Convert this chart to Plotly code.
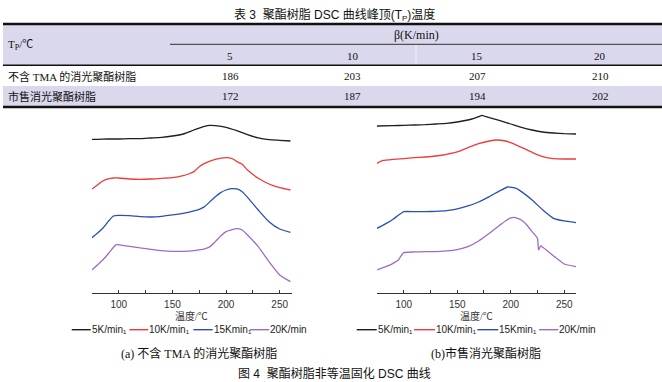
import plotly.graph_objects as go

W, H = 662, 382

# ---------------- Table data ----------------
SUB_P = '<span style="font-size:8px;baseline-shift:-2px">P</span>'
table_title = "表 3  聚酯树脂 DSC 曲线峰顶(T" + SUB_P + ")温度"
tp_label = "T" + SUB_P + "/℃"
rate_header = "β(K/min)"
rates = ["5", "10", "15", "20"]
row_names = ["不含 TMA 的消光聚酯树脂", "市售消光聚酯树脂"]
tp_no_tma = [186, 203, 207, 210]
tp_commercial = [172, 187, 194, 202]

# ---------------- DSC curves (heat-flow, arbitrary units, downward positive) ----------------
# panel (a): 不含 TMA 的消光聚酯树脂
a5_t = [75, 80, 90, 100, 110, 120, 130, 140, 150, 160, 170, 180, 185, 190, 200, 210, 220, 230, 240, 250, 260]
a5_y = [88, 88, 87, 87, 86, 86, 84, 82, 78, 72, 60, 49, 46, 47, 52, 62, 74, 84, 89, 91, 93]
a10_t = [75, 80, 85, 90, 95, 100, 110, 120, 130, 140, 150, 160, 165, 170, 175, 180, 190, 200, 205, 208, 210, 215, 220, 230, 240, 250, 260]
a10_y = [237, 225, 213, 207, 204, 204, 207, 208, 207, 205, 203, 197, 192, 185, 170, 160, 148, 143, 145, 150, 155, 163, 180, 205, 222, 233, 240]
a15_t = [75, 80, 85, 90, 95, 100, 110, 120, 130, 140, 150, 160, 170, 175, 180, 185, 190, 195, 200, 205, 210, 215, 220, 230, 240, 250, 260]
a15_y = [383, 370, 355, 335, 318, 316, 317, 320, 321, 319, 315, 310, 303, 298, 290, 275, 260, 248, 240, 236, 237, 245, 262, 300, 335, 357, 367]
a20_t = [75, 80, 85, 90, 95, 98, 100, 110, 120, 130, 140, 150, 160, 170, 180, 185, 190, 195, 200, 205, 210, 215, 220, 230, 240, 250, 260]
a20_y = [480, 465, 450, 432, 412, 403, 405, 409, 414, 418, 422, 424, 424, 422, 417, 410, 395, 378, 365, 360, 356, 360, 375, 410, 455, 495, 515]

# panel (b): 市售消光聚酯树脂
b5_t = [75, 90, 100, 110, 120, 130, 140, 150, 160, 165, 170, 173, 175, 180, 190, 200, 210, 220, 230, 240, 250, 261]
b5_y = [48, 47, 46, 45, 44, 42, 40, 36, 30, 26, 20, 16, 18, 23, 32, 42, 52, 60, 66, 69, 71, 72]
b10_t = [75, 80, 90, 100, 110, 120, 130, 140, 150, 160, 170, 180, 187, 195, 200, 210, 220, 230, 240, 250, 261]
b10_y = [160, 152, 148, 146, 143, 141, 138, 133, 126, 113, 101, 93, 90, 93, 98, 112, 127, 140, 146, 147, 147]
b15_t = [75, 80, 85, 90, 95, 100, 110, 120, 130, 140, 150, 160, 170, 180, 190, 197, 205, 210, 220, 230, 240, 250, 261]
b15_y = [355, 347, 338, 328, 316, 305, 305, 305, 304, 302, 297, 288, 276, 260, 242, 231, 235, 245, 270, 300, 325, 333, 338]
b20_t = [75, 80, 85, 90, 95, 97, 100, 110, 120, 130, 140, 150, 160, 170, 180, 190, 195, 200, 203, 210, 215, 220, 225, 226, 228, 230, 240, 250, 261]
b20_y = [480, 474, 468, 460, 450, 440, 428, 426, 425, 425, 423, 419, 410, 393, 370, 345, 333, 324, 322, 330, 345, 365, 385, 420, 408, 412, 438, 462, 470]

series_names = ["5K/min₁", "10K/min₁", "15Kmin₁", "20K/min"]
colors = ["#1e1e1e", "#ee3b3b", "#2a4fb5", "#9d6cc4"]
x_ticks = [100, 150, 200, 250]
x_title = "温度/℃"
cap_a = "(a) 不含 TMA 的消光聚酯树脂"
cap_b = "(b)市售消光聚酯树脂"
fig_caption = "图 4  聚酯树脂非等温固化 DSC 曲线"


def px(x):
    return x / W


def py(y):
    return 1 - y / H


fig = go.Figure()
panel_a = [(a5_t, a5_y), (a10_t, a10_y), (a15_t, a15_y), (a20_t, a20_y)]
panel_b = [(b5_t, b5_y), (b10_t, b10_y), (b15_t, b15_y), (b20_t, b20_y)]
for i, (t, y) in enumerate(panel_a):
    fig.add_trace(go.Scatter(x=t, y=y, mode="lines", line=dict(color=colors[i], width=1.3, shape="spline", smoothing=0.6),
                             name=series_names[i], showlegend=False, xaxis="x", yaxis="y"))
for i, (t, y) in enumerate(panel_b):
    fig.add_trace(go.Scatter(x=t, y=y, mode="lines", line=dict(color=colors[i], width=1.3, shape="spline", smoothing=0.4),
                             name=series_names[i], showlegend=False, xaxis="x2", yaxis="y2"))

ydom = [py(293.3), py(110)]
xax = dict(range=[75, 261], showline=True, linecolor="#333", linewidth=1.2, ticks="inside", ticklen=3,
           tickwidth=1, tickcolor="#333", tickvals=x_ticks, showgrid=False, zeroline=False,
           minor=dict(tickvals=[75, 125, 175, 225], ticks="inside", ticklen=3, tickwidth=1, tickcolor="#333"),
           tickfont=dict(family="Liberation Sans", size=10, color="#333"), ticklabelstandoff=2)
yax = dict(range=[550, 0], visible=False, showgrid=False, zeroline=False)

fig.update_layout(
    width=W, height=H, autosize=False,
    margin=dict(l=0, r=0, t=0, b=0),
    paper_bgcolor="white", plot_bgcolor="rgba(0,0,0,0)",
    xaxis=dict(domain=[px(92), px(291.5)], anchor="y", **xax),
    yaxis=dict(domain=ydom, anchor="x", **yax),
    xaxis2=dict(domain=[px(377), px(576)], anchor="y2", **xax),
    yaxis2=dict(domain=ydom, anchor="x2", **yax),
)

shapes = []
ann = []
lav = "#dad8ec"
# table backgrounds
shapes.append(dict(type="rect", xref="paper", yref="paper", x0=px(3), x1=px(662), y0=py(65), y1=py(24),
                   fillcolor=lav, line=dict(width=0), layer="below"))
shapes.append(dict(type="rect", xref="paper", yref="paper", x0=px(3), x1=px(662), y0=py(106.5), y1=py(86),
                   fillcolor=lav, line=dict(width=0), layer="below"))
# vertical faint separator in header
shapes.append(dict(type="line", xref="paper", yref="paper", x0=px(416), x1=px(416), y0=py(45), y1=py(65),
                   line=dict(color="#f2f2f8", width=1)))
# table rules
for yy, x0, w, c in [(24, 3, 2.4, "#111"), (44.3, 170, 1.0, "#333"), (65.3, 3, 1.4, "#111"), (107, 3, 2.4, "#111")]:
    shapes.append(dict(type="line", xref="paper", yref="paper", x0=px(x0), x1=px(662), y0=py(yy), y1=py(yy),
                       line=dict(color=c, width=w)))

serif_cjk = "Liberation Serif, Noto Sans CJK SC"
sans_cjk = "Liberation Sans, Noto Sans CJK SC"

ann.append(dict(text=table_title, x=px(335), y=py(15), font=dict(family=sans_cjk, size=12, color="#111")))
ann.append(dict(text=tp_label, x=px(7), y=py(45), xanchor="left", font=dict(family=serif_cjk, size=11, color="#111")))
ann.append(dict(text=rate_header, x=px(416.5), y=py(35), font=dict(family=serif_cjk, size=12, color="#111")))
col_x = [230, 353, 477, 600]
for cx, r in zip(col_x, rates):
    ann.append(dict(text=r, x=px(cx), y=py(55.5), font=dict(family=serif_cjk, size=11, color="#111")))
for ry, name, vals in [(76, row_names[0], tp_no_tma), (96.5, row_names[1], tp_commercial)]:
    ann.append(dict(text=name, x=px(7), y=py(ry), xanchor="left", font=dict(family=serif_cjk, size=11, color="#111")))
    for cx, v in zip(col_x, vals):
        ann.append(dict(text=str(v), x=px(cx), y=py(ry), font=dict(family=serif_cjk, size=11, color="#111")))

# axis titles
for cx in [191.5, 476.5]:
    ann.append(dict(text=x_title, x=px(cx), y=py(315.5), font=dict(family=serif_cjk, size=10, color="#333")))

# legends
leg_a = [(71.7, 90.7), (129.3, 148.3), (193.3, 212.7), (250, 269.3)]
leg_b = [(356.7, 376.7), (414, 435), (477.3, 498.3), (539, 558.3)]
for segs in [leg_a, leg_b]:
    for i, (x0, x1) in enumerate(segs):
        shapes.append(dict(type="line", xref="paper", yref="paper", x0=px(x0), x1=px(x1), y0=py(329.7), y1=py(329.7),
                           line=dict(color=colors[i], width=1.4)))
        ann.append(dict(text=series_names[i], x=px(x1), y=py(329.5), xanchor="left",
                        font=dict(family="Liberation Sans, Noto Sans", size=10, color="#222")))

ann.append(dict(text=cap_a, x=px(199), y=py(353.5), font=dict(family=serif_cjk, size=12, color="#111")))
ann.append(dict(text=cap_b, x=px(486), y=py(353.5), font=dict(family=serif_cjk, size=12, color="#111")))
ann.append(dict(text=fig_caption, x=px(334), y=py(373), font=dict(family=sans_cjk, size=12, color="#111")))

for a in ann:
    a.setdefault("xanchor", "center")
    a.update(xref="paper", yref="paper", yanchor="middle", showarrow=False, borderpad=0)

fig.update_layout(shapes=shapes, annotations=ann)
fig.write_html("out.html", config={"displayModeBar": False},
               post_script="document.body.style.margin='0';document.body.style.overflow='hidden';")
